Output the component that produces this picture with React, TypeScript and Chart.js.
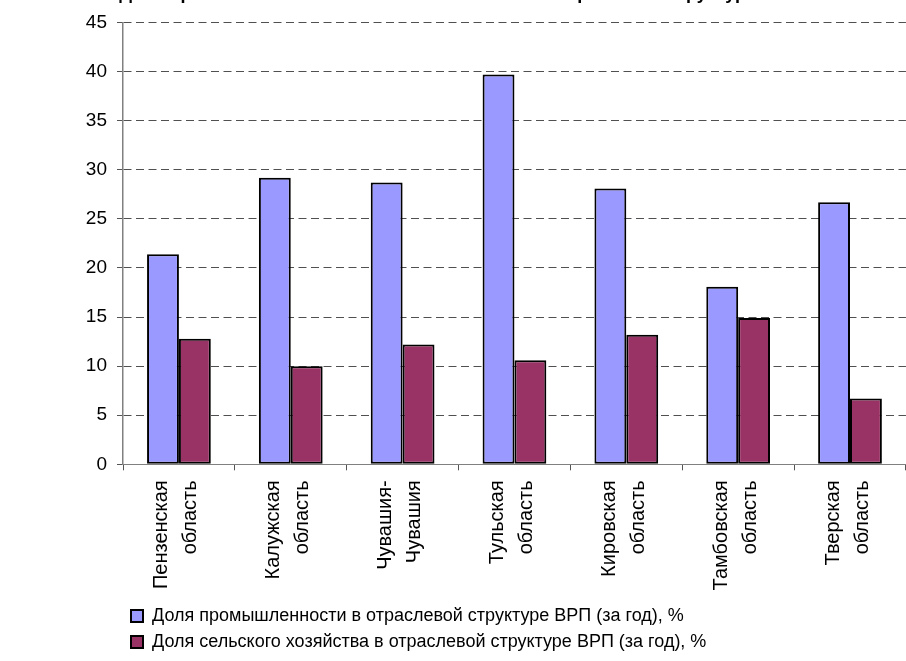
import React, { useEffect, useRef } from "react";
import { Chart, registerables } from "chart.js";

Chart.register(...registerables);

const categories: string[][] = [
  ["Пензенская", "область"],
  ["Калужская", "область"],
  ["Чувашия-", "Чувашия"],
  ["Тульская", "область"],
  ["Кировская", "область"],
  ["Тамбовская", "область"],
  ["Тверская", "область"],
];

const industryShare: number[] = [21.4, 29.2, 28.7, 39.7, 28.1, 18.1, 26.7];
const agricultureShare: number[] = [12.8, 10.0, 12.2, 10.6, 13.2, 14.9, 6.7];

const seriesNames: string[] = [
  "Доля промышленности в отраслевой структуре ВРП (за год), %",
  "Доля сельского хозяйства в отраслевой структуре ВРП (за год), %",
];

const titleText =
  "Доля промышленности и сельского хозяйства в отраслевой структуре ВРП";

const yMin = 0;
const yMax = 45;
const yStep = 5;

const FONT = "'Liberation Sans', Arial, sans-serif";

export default function App() {
  const canvasRef = useRef<HTMLCanvasElement | null>(null);

  useEffect(() => {
    const canvas = canvasRef.current;
    if (!canvas) return;
    const chart = new Chart(canvas, {
      type: "bar",
      data: {
        labels: categories,
        datasets: [
          {
            label: seriesNames[0],
            data: industryShare,
            backgroundColor: "#9999FF",
            borderColor: "#000000",
            borderWidth: 2,
            borderSkipped: false,
            categoryPercentage: 0.57,
            barPercentage: 1,
          },
          {
            label: seriesNames[1],
            data: agricultureShare,
            backgroundColor: "#993366",
            borderColor: "#000000",
            borderWidth: 2,
            borderSkipped: false,
            categoryPercentage: 0.57,
            barPercentage: 1,
          },
        ],
      },
      options: {
        animation: false,
        responsive: false,
        devicePixelRatio: 1,
        layout: { padding: 0 },
        plugins: {
          title: {
            display: true,
            text: titleText,
            color: "#000",
            font: { family: FONT, size: 18, weight: "bold" },
            padding: { top: 13, bottom: 18 },
          },
          legend: {
            position: "bottom",
            align: "start",
            fullSize: false,
            labels: {
              boxWidth: 12,
              boxHeight: 12,
              padding: 8,
              color: "#000",
              font: { family: FONT, size: 18 },
            },
          },
          tooltip: { enabled: false },
        },
        scales: {
          x: {
            grid: {
              display: true,
              drawOnChartArea: false,
              drawTicks: true,
              tickLength: 6,
              color: "#555",
              offset: true,
            },
            border: { display: true, color: "#808080", width: 1 },
            ticks: {
              autoSkip: false,
              minRotation: 90,
              maxRotation: 90,
              padding: 10,
              labelOffset: -17,
              color: "#000",
              font: { family: FONT, size: 20, lineHeight: 1.45 },
            },
            afterFit: (s: any) => {
              s.height = 134.7;
            },
          },
          y: {
            min: yMin,
            max: yMax,
            ticks: {
              stepSize: yStep,
              padding: 10,
              color: "#000",
              font: { family: FONT, size: 19 },
            },
            grid: {
              color: "#505050",
              lineWidth: 1,
              drawTicks: true,
              tickLength: 6,
              tickColor: "#555",
            },
            border: { display: true, color: "#808080", width: 1.5, dash: [8, 4.5] },
            afterFit: (s: any) => {
              s.width = 123;
            },
          },
        },
      },
    });
    return () => chart.destroy();
  }, []);

  return (
    <div
      style={{
        position: "fixed",
        left: 0,
        top: 0,
        width: 906,
        height: 661,
        overflow: "hidden",
        background: "#fff",
      }}
    >
      <canvas
        ref={canvasRef}
        width={918}
        height={691}
        style={{ position: "absolute", left: 0, top: -30, width: 918, height: 691, display: "block" }}
      />
    </div>
  );
}
